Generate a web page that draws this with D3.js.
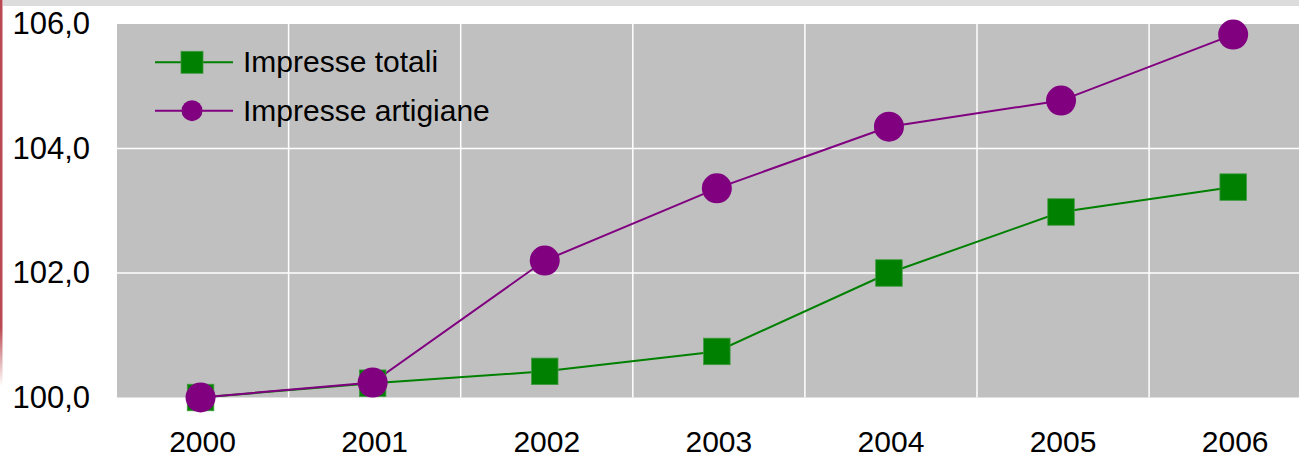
<!DOCTYPE html>
<html>
<head>
<meta charset="utf-8">
<script src="https://cdn.jsdelivr.net/npm/d3@7"></script>
<style>
  body { margin: 0; background: #fff; }
  svg { display: block; font-family: "Liberation Sans", Arial, sans-serif; }
</style>
</head>
<body>
<svg id="chart" width="1299" height="459"></svg>
<script>
var years = ["2000", "2001", "2002", "2003", "2004", "2005", "2006"];
var totali = [100.0, 100.23, 100.42, 100.74, 102.0, 102.98, 103.38];
var artigiane = [100.0, 100.24, 102.2, 103.36, 104.35, 104.77, 105.83];
var yTicks = [100, 102, 104, 106];
var seriesNames = ["Impresse totali", "Impresse artigiane"];

(function LineImprese() {
    var svg = d3.select("#chart"),
        width = +svg.attr("width"),
        height = +svg.attr("height");

    var plotLeft = 117, plotTop = 24, plotBottom = 397.5;

    var x = d3.scaleBand()
              .domain(years)
              .range([116.5, 116.5 + 7 * 172.1]);

    var y = d3.scaleLinear()
              .domain([100, 106])
              .range([plotBottom, plotTop]);

    function cx(d) { return x(d) + x.bandwidth() / 2 - 2; }

    // top band and left border
    svg.append("rect")
       .attr("x", 3).attr("y", 0)
       .attr("width", width).attr("height", 6)
       .attr("fill", "#dcdcdc");

    var grad = svg.append("defs").append("linearGradient")
                  .attr("id", "edge")
                  .attr("x1", 0).attr("y1", 0).attr("x2", 0).attr("y2", 1);
    grad.append("stop").attr("offset", "0.85").attr("stop-color", "#b94a52");
    grad.append("stop").attr("offset", "1").attr("stop-color", "#b94a52").attr("stop-opacity", 0);

    svg.append("rect")
       .attr("x", 0).attr("y", 0)
       .attr("width", 2.5).attr("height", 386)
       .attr("fill", "url(#edge)");

    // plot area
    svg.append("rect")
       .attr("x", plotLeft).attr("y", plotTop)
       .attr("width", width - plotLeft).attr("height", plotBottom - plotTop)
       .attr("fill", "#c0c0c0");

    var grid = svg.append("g").attr("stroke", "#ffffff").attr("stroke-width", 1.5);

    grid.selectAll(".vgrid")
        .data(years.slice(1))
        .enter().append("line")
        .attr("class", "vgrid")
        .attr("x1", function(d) { return x(d); })
        .attr("x2", function(d) { return x(d); })
        .attr("y1", plotTop).attr("y2", plotBottom);

    grid.selectAll(".hgrid")
        .data(yTicks.slice(1, 3))
        .enter().append("line")
        .attr("class", "hgrid")
        .attr("x1", plotLeft).attr("x2", width)
        .attr("y1", function(d) { return y(d); })
        .attr("y2", function(d) { return y(d); });

    // axes labels
    var yAxis = d3.axisLeft(y)
                  .tickValues(yTicks)
                  .tickSize(0)
                  .tickPadding(0)
                  .tickFormat(function(d) { return d3.format(".1f")(d).replace(".", ","); });

    svg.append("g")
       .attr("transform", "translate(90,0)")
       .call(yAxis)
       .call(function(g) { g.select(".domain").remove(); })
       .selectAll("text")
       .attr("font-family", "Liberation Sans, Arial, sans-serif")
       .attr("font-size", 31)
       .attr("fill", "#000");

    var xAxis = d3.axisBottom(x).tickSize(0).tickPadding(0);

    svg.append("g")
       .attr("transform", "translate(0,452)")
       .call(xAxis)
       .call(function(g) { g.select(".domain").remove(); })
       .selectAll("text")
       .attr("dy", 0)
       .attr("font-family", "Liberation Sans, Arial, sans-serif")
       .attr("font-size", 30)
       .attr("fill", "#000");

    // lines
    var line = d3.line()
                 .x(function(d, i) { return cx(years[i]); })
                 .y(function(d) { return y(d); });

    svg.append("path")
       .datum(totali)
       .attr("d", line)
       .attr("fill", "none")
       .attr("stroke", "#008000")
       .attr("stroke-width", 2);

    svg.append("path")
       .datum(artigiane)
       .attr("d", line)
       .attr("fill", "none")
       .attr("stroke", "#800080")
       .attr("stroke-width", 2);

    var sq = 26.5;
    svg.selectAll(".sq")
       .data(totali)
       .enter().append("rect")
       .attr("class", "sq")
       .attr("x", function(d, i) { return cx(years[i]) - sq / 2; })
       .attr("y", function(d) { return y(d) - sq / 2; })
       .attr("width", sq).attr("height", sq)
       .attr("fill", "#008000")
       .attr("stroke", "#3f9a3f")
       .attr("stroke-width", 0.8);

    svg.selectAll(".dot")
       .data(artigiane)
       .enter().append("circle")
       .attr("class", "dot")
       .attr("cx", function(d, i) { return cx(years[i]); })
       .attr("cy", function(d) { return y(d); })
       .attr("r", 15)
       .attr("fill", "#800080");

    // legend
    var legend = svg.append("g");
    var ly = [62.3, 110.7];

    legend.selectAll("line")
          .data(seriesNames)
          .enter().append("line")
          .attr("x1", 155).attr("x2", 233)
          .attr("y1", function(d, i) { return ly[i]; })
          .attr("y2", function(d, i) { return ly[i]; })
          .attr("stroke", function(d, i) { return i === 0 ? "#008000" : "#800080"; })
          .attr("stroke-width", 2);

    legend.append("rect")
          .attr("x", 192 - 11).attr("y", ly[0] - 11)
          .attr("width", 22).attr("height", 22)
          .attr("fill", "#008000")
          .attr("stroke", "#3f9a3f")
          .attr("stroke-width", 0.8);

    legend.append("circle")
          .attr("cx", 192).attr("cy", ly[1])
          .attr("r", 10.5)
          .attr("fill", "#800080");

    legend.selectAll("text")
          .data(seriesNames)
          .enter().append("text")
          .attr("x", 243)
          .attr("y", function(d, i) { return ly[i] + 10; })
          .attr("font-size", 30)
          .attr("fill", "#000")
          .text(function(d) { return d; });
}());
</script>
</body>
</html>
